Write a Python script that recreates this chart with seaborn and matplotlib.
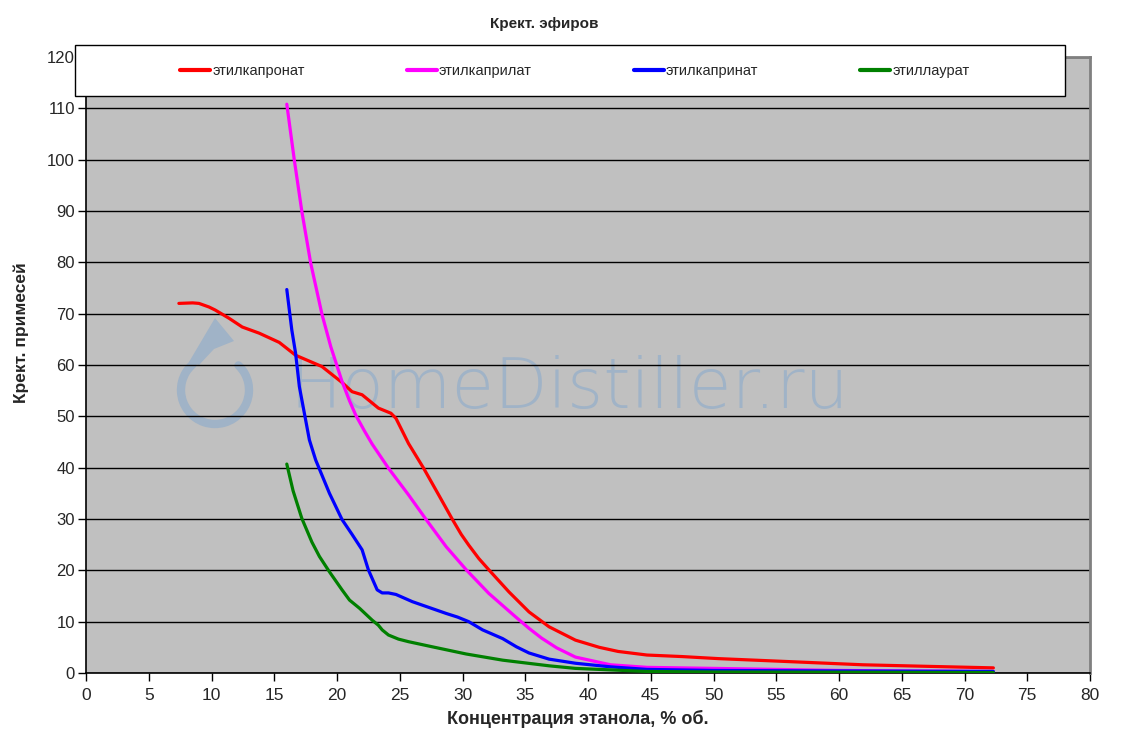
import matplotlib
matplotlib.use("Agg")
import matplotlib.pyplot as plt
import seaborn as sns
import pandas as pd
from matplotlib.patches import Rectangle, Arc, Polygon

# ---------------- data ----------------
names = ["этилкапронат", "этилкаприлат", "этилкапринат", "этиллаурат"]
colors = ["#FF0000", "#FF00FF", "#0000FF", "#008000"]

caproate_x = [7.4, 8.5, 9.0, 9.8, 10.3, 11.4, 12.45, 13.8, 15.4, 16.7, 18.8, 20.4, 21.2, 22.0,
              23.3, 24.3, 24.7, 25.7, 26.9, 28.1, 29.2, 29.9, 30.5, 31.3, 32.1, 33.7, 35.3,
              36.9, 39.0, 40.9, 42.4, 44.7, 47.5, 50.4, 56.2, 61.9, 67.0, 72.3]
caproate_y = [72.0, 72.1, 72.0, 71.3, 70.7, 69.1, 67.4, 66.2, 64.4, 61.9, 59.7, 56.6, 54.8, 54.2,
              51.6, 50.6, 49.6, 44.7, 39.9, 34.7, 29.9, 27.0, 24.9, 22.3, 20.1, 15.8, 11.9,
              9.0, 6.4, 5.0, 4.2, 3.5, 3.2, 2.8, 2.2, 1.6, 1.3, 1.0]

caprylate_x = [16.0, 16.6, 17.2, 17.9, 18.8, 19.5, 20.4, 21.0, 21.5, 22.2, 22.8, 24.1, 25.7,
               27.1, 28.7, 30.3, 32.1, 34.2, 35.3, 36.3, 37.5, 39.0, 41.8, 44.7, 50.0, 55.0,
               60.0, 65.0, 72.3]
caprylate_y = [110.8, 99.9, 89.9, 79.9, 69.9, 63.6, 56.8, 53.0, 50.2, 47.1, 44.6, 39.9, 34.7,
               29.9, 24.6, 20.1, 15.5, 11.0, 8.7, 6.8, 4.9, 3.1, 1.6, 1.1, 0.9, 0.7,
               0.5, 0.4, 0.3]

caprate_x = [16.0, 16.4, 16.7, 17.0, 17.2, 17.8, 18.3, 19.4, 20.4, 21.2, 22.0, 22.5, 23.2, 23.6,
             24.1, 24.7, 26.0, 28.7, 29.6, 30.5, 31.6, 33.2, 34.3, 35.3, 36.9, 39.0, 41.8,
             44.7, 50.0, 60.0, 72.3]
caprate_y = [74.7, 66.8, 62.3, 55.8, 53.2, 45.4, 41.5, 35.0, 29.9, 27.0, 24.0, 20.1, 16.2, 15.6,
             15.6, 15.3, 13.9, 11.6, 10.9, 10.0, 8.4, 6.7, 5.1, 3.9, 2.7, 1.9, 1.2,
             0.7, 0.5, 0.4, 0.3]

laurate_x = [16.0, 16.5, 17.2, 18.0, 18.6, 19.4, 20.4, 21.0, 21.8, 22.8, 23.3, 23.6, 24.1, 24.4,
             24.9, 25.7, 27.6, 30.3, 33.2, 36.9, 39.0, 44.7, 50.0, 60.0, 72.3]
laurate_y = [40.7, 35.5, 30.1, 25.5, 22.7, 19.7, 16.2, 14.2, 12.6, 10.3, 9.3, 8.4, 7.4, 7.1,
             6.6, 6.1, 5.1, 3.7, 2.5, 1.4, 0.9, 0.3, 0.2, 0.15, 0.1]

x_ticks = list(range(0, 81, 5))
y_ticks = list(range(0, 121, 10))

title = "Крект. эфиров"
xlabel = "Концентрация этанола, % об."
ylabel = "Крект. примесей"
watermark = "HomeDistiller.ru"

series = [(caproate_x, caproate_y), (caprylate_x, caprylate_y),
          (caprate_x, caprate_y), (laurate_x, laurate_y)]
frames = []
for nm, (xs, ys) in zip(names, series):
    frames.append(pd.DataFrame({"x": xs, "y": ys, "series": nm}))
df = pd.concat(frames, ignore_index=True)

# ---------------- style ----------------
sns.set_theme(style="white")
plt.rcParams["font.family"] = ["Liberation Sans", "DejaVu Sans"]

W, H = 1129, 740
fig = plt.figure(figsize=(W / 100, H / 100), dpi=100)
fig.patch.set_facecolor("white")

def fx(px):
    return px / W

def fy(py):
    return 1 - py / H

L, R, T, B = 86, 1090, 57, 673
ax = fig.add_axes([fx(L), fy(B), fx(R - L), (B - T) / H])
ax.set_facecolor("#C0C0C0")

# watermark (decorative, below grid)
wm_col = "#A0B3C7"
ax.text(fx(289), fy(408), watermark, transform=fig.transFigure, fontsize=50,
        family=["DejaVu Sans"], fontweight="light", color=wm_col, ha="left",
        va="baseline", zorder=0.2)
ring = Arc((fx(215), fy(390)), 2 * 34 / W, 2 * 34 / H, theta1=-240, theta2=58,
           transform=fig.transFigure, color=wm_col, lw=6.0, zorder=0.2,
           capstyle="round")
ax.add_patch(ring)
tip = Polygon([(fx(215), fy(318)), (fx(234), fy(341)), (fx(214), fy(349)),
               (fx(199), fy(365)), (fx(189), fy(362))],
              closed=True, transform=fig.transFigure, facecolor=wm_col,
              edgecolor="none", zorder=0.2)
ax.add_patch(tip)

sns.lineplot(data=df, x="x", y="y", hue="series", palette=colors, hue_order=names,
             estimator=None, sort=True, lw=2.3, ax=ax, legend=True, zorder=3,
             solid_capstyle="round", solid_joinstyle="round")
handles, labels = ax.get_legend_handles_labels()
ax.get_legend().remove()

ax.set_xlim(0, 80)
ax.set_ylim(0, 120)
ax.set_xticks(x_ticks)
ax.set_yticks(y_ticks)
ax.set_axisbelow(True)
ax.yaxis.grid(True, color="black", lw=1.0, zorder=0.5)
ax.xaxis.grid(False)

for s in ["left", "bottom"]:
    ax.spines[s].set_color("black")
    ax.spines[s].set_linewidth(1.2)
for s in ["top", "right"]:
    ax.spines[s].set_color("#808080")
    ax.spines[s].set_linewidth(2.0)

ax.tick_params(axis="both", direction="out", length=6, width=1, color="black",
               left=True, bottom=True)
ax.tick_params(axis="y", pad=2)
ax.tick_params(axis="x", pad=5)
ax.set_xticklabels([str(v) for v in x_ticks], fontsize=12.5)
ax.set_yticklabels([str(v) for v in y_ticks], fontsize=12)

ax.set_xlabel(xlabel, fontsize=13, fontweight="bold")
ax.set_ylabel(ylabel, fontsize=12.5, fontweight="bold")
ax.xaxis.set_label_coords((578 - L) / (R - L), (B - 710) / (B - T))
ax.yaxis.set_label_coords((29 - L) / (R - L), (B - 333) / (B - T))

fig.text(fx(544), fy(24), title, fontsize=11, fontweight="bold", ha="center", va="center")

# legend box
fig.add_artist(Rectangle((fx(75), fy(96)), fx(1065 - 75), (96 - 45) / H,
                         transform=fig.transFigure, facecolor="white",
                         edgecolor="black", lw=1.0, zorder=3))
leg = fig.legend(handles, labels, loc="center", bbox_to_anchor=(fx(575), fy(71)),
                 ncol=4, frameon=False, prop={"size": 10.5},
                 handlelength=2.05, handletextpad=0.15, columnspacing=7.0)
leg.set_zorder(5)
for h in leg.get_lines():
    h.set_linewidth(3)

fig.savefig("out.png", dpi=100, facecolor="white")
